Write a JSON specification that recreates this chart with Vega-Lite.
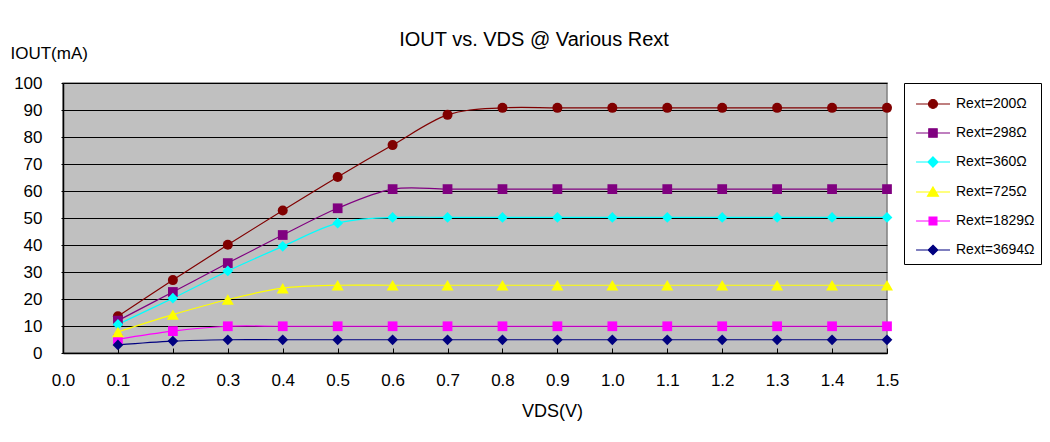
{
  "$schema": "https://vega.github.io/schema/vega-lite/v6.json",
  "width": 824,
  "height": 270,
  "autosize": {"type": "none"},
  "padding": {"left": 63, "top": 83, "right": 163, "bottom": 89},
  "background": "white",
  "title": {"text": "IOUT vs. VDS @ Various Rext", "fontSize": 20, "font": "Liberation Sans", "fontWeight": "normal", "anchor": "middle", "dx": 59, "offset": -6, "color": "black"},
  "config": {
    "view": {"fill": "#C0C0C0", "stroke": "#808080", "strokeWidth": 1.5},
    "font": "Liberation Sans",
    "legend": {"orient": "none", "legendX": 841, "legendY": 0, "title": null, "strokeColor": "black", "fillColor": "white",
           "padding": 6, "labelFontSize": 14, "labelFont": "Liberation Sans", "labelColor": "black", "labelOffset": 16,
           "rowPadding": 7, "symbolSize": 784, "symbolOpacity": 1, "symbolStrokeWidth": 1.2}
  },
  "data": {"values": [
    {"s": "Rext=200Ω", "v": 0.1, "i": 13.6}, {"s": "Rext=200Ω", "v": 0.2, "i": 27}, {"s": "Rext=200Ω", "v": 0.3, "i": 40.1}, {"s": "Rext=200Ω", "v": 0.4, "i": 52.8}, {"s": "Rext=200Ω", "v": 0.5, "i": 65.2}, {"s": "Rext=200Ω", "v": 0.6, "i": 77}, {"s": "Rext=200Ω", "v": 0.7, "i": 88.2}, {"s": "Rext=200Ω", "v": 0.8, "i": 90.8}, {"s": "Rext=200Ω", "v": 0.9, "i": 90.8}, {"s": "Rext=200Ω", "v": 1.0, "i": 90.8}, {"s": "Rext=200Ω", "v": 1.1, "i": 90.8}, {"s": "Rext=200Ω", "v": 1.2, "i": 90.8}, {"s": "Rext=200Ω", "v": 1.3, "i": 90.8}, {"s": "Rext=200Ω", "v": 1.4, "i": 90.8}, {"s": "Rext=200Ω", "v": 1.5, "i": 90.8},
    {"s": "Rext=298Ω", "v": 0.1, "i": 12}, {"s": "Rext=298Ω", "v": 0.2, "i": 22.6}, {"s": "Rext=298Ω", "v": 0.3, "i": 33.3}, {"s": "Rext=298Ω", "v": 0.4, "i": 43.7}, {"s": "Rext=298Ω", "v": 0.5, "i": 53.6}, {"s": "Rext=298Ω", "v": 0.6, "i": 60.7}, {"s": "Rext=298Ω", "v": 0.7, "i": 60.7}, {"s": "Rext=298Ω", "v": 0.8, "i": 60.7}, {"s": "Rext=298Ω", "v": 0.9, "i": 60.7}, {"s": "Rext=298Ω", "v": 1.0, "i": 60.7}, {"s": "Rext=298Ω", "v": 1.1, "i": 60.7}, {"s": "Rext=298Ω", "v": 1.2, "i": 60.7}, {"s": "Rext=298Ω", "v": 1.3, "i": 60.7}, {"s": "Rext=298Ω", "v": 1.4, "i": 60.7}, {"s": "Rext=298Ω", "v": 1.5, "i": 60.7},
    {"s": "Rext=360Ω", "v": 0.1, "i": 10.6}, {"s": "Rext=360Ω", "v": 0.2, "i": 20.3}, {"s": "Rext=360Ω", "v": 0.3, "i": 30.4}, {"s": "Rext=360Ω", "v": 0.4, "i": 39.5}, {"s": "Rext=360Ω", "v": 0.5, "i": 48.1}, {"s": "Rext=360Ω", "v": 0.6, "i": 50.2}, {"s": "Rext=360Ω", "v": 0.7, "i": 50.2}, {"s": "Rext=360Ω", "v": 0.8, "i": 50.2}, {"s": "Rext=360Ω", "v": 0.9, "i": 50.2}, {"s": "Rext=360Ω", "v": 1.0, "i": 50.2}, {"s": "Rext=360Ω", "v": 1.1, "i": 50.2}, {"s": "Rext=360Ω", "v": 1.2, "i": 50.2}, {"s": "Rext=360Ω", "v": 1.3, "i": 50.2}, {"s": "Rext=360Ω", "v": 1.4, "i": 50.2}, {"s": "Rext=360Ω", "v": 1.5, "i": 50.2},
    {"s": "Rext=725Ω", "v": 0.1, "i": 7.8}, {"s": "Rext=725Ω", "v": 0.2, "i": 14.2}, {"s": "Rext=725Ω", "v": 0.3, "i": 19.8}, {"s": "Rext=725Ω", "v": 0.4, "i": 24}, {"s": "Rext=725Ω", "v": 0.5, "i": 25.1}, {"s": "Rext=725Ω", "v": 0.6, "i": 25.1}, {"s": "Rext=725Ω", "v": 0.7, "i": 25.1}, {"s": "Rext=725Ω", "v": 0.8, "i": 25.1}, {"s": "Rext=725Ω", "v": 0.9, "i": 25.1}, {"s": "Rext=725Ω", "v": 1.0, "i": 25.1}, {"s": "Rext=725Ω", "v": 1.1, "i": 25.1}, {"s": "Rext=725Ω", "v": 1.2, "i": 25.1}, {"s": "Rext=725Ω", "v": 1.3, "i": 25.1}, {"s": "Rext=725Ω", "v": 1.4, "i": 25.1}, {"s": "Rext=725Ω", "v": 1.5, "i": 25.1},
    {"s": "Rext=1829Ω", "v": 0.1, "i": 5.1}, {"s": "Rext=1829Ω", "v": 0.2, "i": 8.1}, {"s": "Rext=1829Ω", "v": 0.3, "i": 9.9}, {"s": "Rext=1829Ω", "v": 0.4, "i": 9.9}, {"s": "Rext=1829Ω", "v": 0.5, "i": 9.9}, {"s": "Rext=1829Ω", "v": 0.6, "i": 9.9}, {"s": "Rext=1829Ω", "v": 0.7, "i": 9.9}, {"s": "Rext=1829Ω", "v": 0.8, "i": 9.9}, {"s": "Rext=1829Ω", "v": 0.9, "i": 9.9}, {"s": "Rext=1829Ω", "v": 1.0, "i": 9.9}, {"s": "Rext=1829Ω", "v": 1.1, "i": 9.9}, {"s": "Rext=1829Ω", "v": 1.2, "i": 9.9}, {"s": "Rext=1829Ω", "v": 1.3, "i": 9.9}, {"s": "Rext=1829Ω", "v": 1.4, "i": 9.9}, {"s": "Rext=1829Ω", "v": 1.5, "i": 9.9},
    {"s": "Rext=3694Ω", "v": 0.1, "i": 3}, {"s": "Rext=3694Ω", "v": 0.2, "i": 4.4}, {"s": "Rext=3694Ω", "v": 0.3, "i": 4.9}, {"s": "Rext=3694Ω", "v": 0.4, "i": 4.9}, {"s": "Rext=3694Ω", "v": 0.5, "i": 4.9}, {"s": "Rext=3694Ω", "v": 0.6, "i": 4.9}, {"s": "Rext=3694Ω", "v": 0.7, "i": 4.9}, {"s": "Rext=3694Ω", "v": 0.8, "i": 4.9}, {"s": "Rext=3694Ω", "v": 0.9, "i": 4.9}, {"s": "Rext=3694Ω", "v": 1.0, "i": 4.9}, {"s": "Rext=3694Ω", "v": 1.1, "i": 4.9}, {"s": "Rext=3694Ω", "v": 1.2, "i": 4.9}, {"s": "Rext=3694Ω", "v": 1.3, "i": 4.9}, {"s": "Rext=3694Ω", "v": 1.4, "i": 4.9}, {"s": "Rext=3694Ω", "v": 1.5, "i": 4.9}
  ]},
  "encoding": {
    "x": {"field": "v", "type": "quantitative", "scale": {"domain": [0, 1.5], "nice": false, "zero": false},
      "axis": {"values": [0, 0.1, 0.2, 0.3, 0.4, 0.5, 0.6, 0.7, 0.8, 0.9, 1.0, 1.1, 1.2, 1.3, 1.4, 1.5], "format": ".1f", "grid": false,
        "labelFontSize": 17, "labelColor": "black", "labelFont": "Liberation Sans", "labelPadding": 24, "labelFlush": false, "labelOverlap": false,
        "domainColor": "black", "domainWidth": 1.5, "tickColor": "black", "tickSize": -5, "tickWidth": 1,
        "title": "VDS(V)", "titleFontSize": 18, "titleFontWeight": "normal", "titleColor": "black", "titleFont": "Liberation Sans",
        "titleX": 489, "titleY": 63, "titleAnchor": "middle", "titleAlign": "center", "titleBaseline": "alphabetic"}},
    "y": {"field": "i", "type": "quantitative", "scale": {"domain": [0, 100], "nice": false},
      "axis": {"values": [0, 10, 20, 30, 40, 50, 60, 70, 80, 90, 100], "grid": true, "gridColor": "black", "gridOpacity": 1, "gridWidth": 1,
        "labelFontSize": 17, "labelColor": "black", "labelFont": "Liberation Sans", "labelPadding": 19,
        "domainColor": "black", "domainWidth": 1.5, "tickColor": "black", "tickSize": 2,
        "title": "IOUT(mA)", "titleAngle": 0, "titleAlign": "left", "titleBaseline": "alphabetic", "titleX": -53, "titleY": -25,
        "titleFontSize": 17, "titleFontWeight": "normal", "titleColor": "black", "titleFont": "Liberation Sans"}},
    "fill": {"field": "s", "type": "nominal",
      "scale": {"domain": ["Rext=200Ω", "Rext=298Ω", "Rext=360Ω", "Rext=725Ω", "Rext=1829Ω", "Rext=3694Ω"],
                "range": ["#800000", "#800080", "#00FFFF", "#FFFF00", "#FF00FF", "#000080"]}}
  },
  "layer": [
    {"mark": {"type": "line", "interpolate": "cardinal", "strokeWidth": 1.2},
     "encoding": {"fill": null, "stroke": {"field": "s", "type": "nominal",
       "scale": {"domain": ["Rext=200Ω", "Rext=298Ω", "Rext=360Ω", "Rext=725Ω", "Rext=1829Ω", "Rext=3694Ω"],
                 "range": ["#800000", "#800080", "#00FFFF", "#FFFF00", "#FF00FF", "#000080"]}},
       "detail": {"field": "s"}}},
    {"transform": [{"filter": {"field": "s", "equal": "Rext=200Ω"}}],
     "mark": {"type": "point", "filled": true, "opacity": 1, "shape": "circle", "size": 100}},
    {"transform": [{"filter": {"field": "s", "oneOf": ["Rext=298Ω", "Rext=1829Ω"]}}],
     "mark": {"type": "point", "filled": true, "opacity": 1, "shape": "square", "size": 95}},
    {"transform": [{"filter": {"field": "s", "oneOf": ["Rext=360Ω", "Rext=3694Ω"]}}],
     "mark": {"type": "point", "filled": true, "opacity": 1, "shape": "diamond", "size": 115}},
    {"transform": [{"filter": {"field": "s", "equal": "Rext=725Ω"}}],
     "mark": {"type": "point", "filled": true, "opacity": 1, "shape": "triangle-up", "size": 144}},
    {"mark": {"type": "point", "filled": true, "opacity": 0, "size": 784, "strokeWidth": 1.2},
     "encoding": {
       "stroke": {"field": "s", "type": "nominal"},
       "shape": {"field": "s", "type": "nominal",
         "scale": {"domain": ["Rext=200Ω", "Rext=298Ω", "Rext=360Ω", "Rext=725Ω", "Rext=1829Ω", "Rext=3694Ω"],
                   "range": ["M-0.64,0H1.79M0.89,0A0.32,0.32,0,1,1,0.25,0A0.32,0.32,0,1,1,0.89,0Z",
                             "M-0.64,0H1.79M0.27,-0.3H0.87V0.3H0.27Z",
                             "M-0.64,0H1.79M0.57,-0.36L0.93,0L0.57,0.36L0.21,0Z",
                             "M-0.64,0H1.79M0.57,-0.36L0.96,0.3L0.18,0.3Z",
                             "M-0.64,0H1.79M0.29,-0.28H0.85V0.28H0.29Z",
                             "M-0.64,0H1.79M0.57,-0.34L0.91,0L0.57,0.34L0.23,0Z"]}}}}
  ]
}
